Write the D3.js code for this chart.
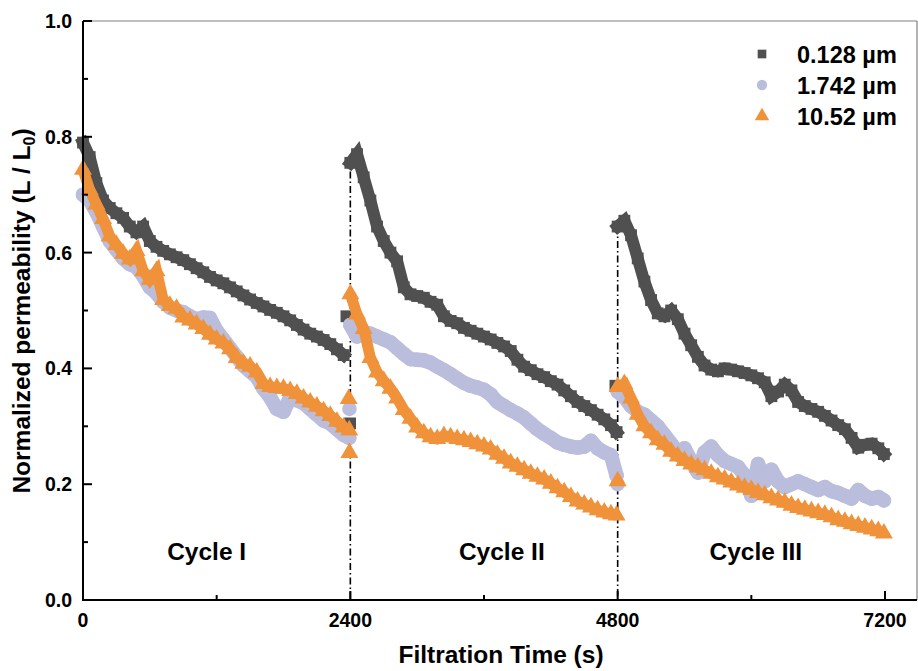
<!DOCTYPE html>
<html><head><meta charset="utf-8">
<script src="https://cdn.jsdelivr.net/npm/d3@7"></script>
<style>html,body{margin:0;padding:0;background:#fff;}svg{display:block;font-family:"Liberation Sans",Arial,sans-serif;font-weight:bold;}</style>
</head><body>
<svg id="chart" width="918" height="671"></svg>
<script>
// ---- data ----
const seriesNames = ["0.128 \u00b5m", "1.742 \u00b5m", "10.52 \u00b5m"];
const seriesColors = ["#505050", "#bbbddc", "#f0923a"];
const sampleStep = 60; // s
const cycleStarts = [0, 2400, 4800];
const xTicks = [0, 2400, 4800, 7200];
const xMinorTicks = [1200, 3600, 6000];
const yTicks = [0, 0.2, 0.4, 0.6, 0.8, 1.0];
const yMinorTicks = [0.1, 0.3, 0.5, 0.7, 0.9];
const cycleLabels = ["Cycle I", "Cycle II", "Cycle III"];
const cycleLabelTimes = [1110, 3760, 6040];
const dividerTimes = [2400, 4800];
const dividerTops = [0.74, 0.645];

// 0.128 um
const s1c1 = [0.79,0.765,0.72,0.69,0.677,0.668,0.66,0.645,0.635,0.645,0.62,0.61,0.603,0.597,0.592,0.587,0.58,0.573,0.566,0.558,0.552,0.547,0.54,0.533,0.526,0.519,0.513,0.507,0.501,0.496,0.49,0.483,0.475,0.467,0.46,0.455,0.449,0.442,0.433,0.423];
const s1c2 = [0.755,0.77,0.73,0.69,0.645,0.62,0.60,0.585,0.54,0.528,0.525,0.522,0.515,0.51,0.49,0.482,0.478,0.47,0.465,0.46,0.455,0.45,0.444,0.438,0.43,0.415,0.403,0.397,0.39,0.385,0.378,0.372,0.362,0.352,0.342,0.335,0.328,0.32,0.312,0.302,0.29];
const s1c3 = [0.645,0.655,0.63,0.59,0.55,0.518,0.495,0.49,0.50,0.485,0.46,0.44,0.42,0.405,0.398,0.395,0.40,0.398,0.395,0.392,0.388,0.383,0.376,0.352,0.36,0.372,0.362,0.342,0.335,0.33,0.325,0.318,0.31,0.302,0.295,0.28,0.263,0.268,0.27,0.262,0.252];
const s1extra = [[2365,0.49],[2398,0.305],[4780,0.37]];

// 1.742 um
const s2c1 = [0.70,0.69,0.67,0.645,0.62,0.605,0.59,0.58,0.575,0.56,0.54,0.53,0.515,0.505,0.50,0.497,0.49,0.485,0.488,0.487,0.465,0.45,0.435,0.42,0.405,0.395,0.385,0.365,0.35,0.33,0.325,0.35,0.345,0.34,0.33,0.32,0.31,0.305,0.295,0.285,0.28];
const s2c2 = [0.475,0.455,0.462,0.46,0.455,0.45,0.445,0.435,0.425,0.416,0.415,0.414,0.41,0.403,0.397,0.39,0.382,0.375,0.37,0.367,0.363,0.355,0.342,0.335,0.328,0.322,0.315,0.305,0.295,0.287,0.28,0.272,0.268,0.265,0.263,0.265,0.275,0.262,0.255,0.25,0.215];
const s2c3 = [0.36,0.35,0.335,0.325,0.32,0.31,0.30,0.285,0.27,0.255,0.262,0.24,0.22,0.255,0.265,0.25,0.24,0.235,0.23,0.215,0.18,0.235,0.205,0.225,0.205,0.195,0.2,0.205,0.2,0.195,0.19,0.195,0.188,0.185,0.18,0.175,0.19,0.18,0.175,0.178,0.172];
const s2extra = [[2392,0.33],[4800,0.20]];

// 10.52 um
const s3c1 = [0.745,0.71,0.685,0.66,0.63,0.615,0.60,0.59,0.605,0.57,0.555,0.57,0.52,0.51,0.505,0.49,0.485,0.478,0.47,0.46,0.452,0.445,0.435,0.42,0.41,0.405,0.395,0.375,0.37,0.368,0.367,0.363,0.358,0.35,0.343,0.336,0.328,0.32,0.31,0.30,0.295];
const s3c2 = [0.53,0.495,0.47,0.42,0.395,0.38,0.367,0.35,0.33,0.315,0.30,0.29,0.283,0.28,0.285,0.283,0.28,0.278,0.275,0.271,0.267,0.262,0.253,0.246,0.238,0.232,0.226,0.22,0.215,0.21,0.203,0.195,0.188,0.18,0.172,0.167,0.162,0.157,0.153,0.15,0.148];
const s3c3 = [0.37,0.375,0.35,0.322,0.302,0.29,0.278,0.27,0.258,0.25,0.242,0.236,0.231,0.226,0.22,0.214,0.21,0.205,0.2,0.196,0.192,0.187,0.183,0.178,0.174,0.17,0.165,0.161,0.158,0.155,0.152,0.149,0.145,0.14,0.137,0.133,0.13,0.127,0.124,0.121,0.117];
const s3extra = [[2385,0.349],[2392,0.256],[4800,0.207]];

// ---- build ----
function segs(cycles) {
  return cycles.map((arr, ci) => arr.map((v, i) => [cycleStarts[ci] + Math.min(i * sampleStep, 2390), v]));
}
const allSegs = [segs([s1c1, s1c2, s1c3]), segs([s2c1, s2c2, s2c3]), segs([s3c1, s3c2, s3c3])];
const allExtra = [s1extra, s2extra, s3extra];

const svg = d3.select("#chart");
const pLeft = 83, pRight = 917, pTop = 21, pBottom = 600;
const x = d3.scaleLinear().domain([0, 7200]).range([83, 885]);
const y = d3.scaleLinear().domain([0, 1]).range([pBottom, pTop]);

// frame (top/right)
svg.append("line").attr("x1", pLeft).attr("x2", pRight).attr("y1", pTop).attr("y2", pTop).attr("stroke", "#808080").attr("stroke-width", 1.2);
svg.append("line").attr("x1", pRight).attr("x2", pRight).attr("y1", pTop).attr("y2", pBottom).attr("stroke", "#808080").attr("stroke-width", 1.2);

// dividers
dividerTimes.forEach((t, i) => {
  svg.append("line").attr("x1", x(t)).attr("x2", x(t)).attr("y1", y(dividerTops[i])).attr("y2", pBottom)
    .attr("stroke", "#000").attr("stroke-width", 1.6).attr("stroke-dasharray", "7,3,1.5,3");
});

// series
const symbols = [d3.symbolSquare, d3.symbolCircle, d3.symbolTriangle];
const sizes = [140, 165, 140];
const bandW = [12, 14.5, 11];
const caps = ["square", "round", "butt"];
const line = d3.line().x(d => x(d[0])).y(d => y(d[1]));
allSegs.forEach((cycles, si) => {
  const g = svg.append("g");
  const off = si === 2 ? 1 : 0;
  cycles.forEach(seg => {
    g.append("path").attr("d", line(seg)).attr("fill", "none").attr("stroke", seriesColors[si])
      .attr("stroke-width", bandW[si]).attr("stroke-linejoin", si === 1 ? "round" : "miter")
      .attr("stroke-linecap", caps[si]).attr("transform", `translate(0,${off})`);
  });
  const pts = cycles.flat().concat(allExtra[si]);
  const sym = d3.symbol().type(symbols[si]).size(sizes[si]);
  g.selectAll("path.m").data(pts).join("path").attr("class", "m")
    .attr("d", sym)
    .attr("transform", d => `translate(${x(d[0])},${y(d[1]) + off})`)
    .attr("fill", seriesColors[si]);
});

// axes
const xAxis = svg.append("g").attr("transform", `translate(0,${pBottom})`);
xAxis.append("line").attr("x1", pLeft - 1).attr("x2", pRight).attr("y1", 0).attr("y2", 0).attr("stroke", "#000").attr("stroke-width", 2);
xAxis.selectAll(".maj").data(xTicks).join("line").attr("class","maj").attr("x1", d => x(d)).attr("x2", d => x(d)).attr("y1", 0).attr("y2", -9).attr("stroke", "#000").attr("stroke-width", 2);
xAxis.selectAll(".min").data(xMinorTicks).join("line").attr("class","min").attr("x1", d => x(d)).attr("x2", d => x(d)).attr("y1", 0).attr("y2", -5).attr("stroke", "#000").attr("stroke-width", 2);
xAxis.selectAll("text").data(xTicks).join("text").attr("x", d => x(d)).attr("y", 27).attr("text-anchor", "middle").attr("font-size", 19.5).text(d => d);

const yAxis = svg.append("g").attr("transform", `translate(${pLeft},0)`);
yAxis.append("line").attr("x1", 0).attr("x2", 0).attr("y1", pTop).attr("y2", pBottom + 1).attr("stroke", "#000").attr("stroke-width", 2);
yAxis.selectAll(".maj").data(yTicks).join("line").attr("class","maj").attr("x1", 0).attr("x2", 9).attr("y1", d => y(d)).attr("y2", d => y(d)).attr("stroke", "#000").attr("stroke-width", 2);
yAxis.selectAll(".min").data(yMinorTicks).join("line").attr("class","min").attr("x1", 0).attr("x2", 5).attr("y1", d => y(d)).attr("y2", d => y(d)).attr("stroke", "#000").attr("stroke-width", 2);
yAxis.selectAll("text").data(yTicks).join("text").attr("x", -11).attr("y", d => y(d) + 7).attr("text-anchor", "end").attr("font-size", 19.5).text(d => d3.format(".1f")(d));

// titles
svg.append("text").attr("x", 501).attr("y", 663).attr("text-anchor", "middle").attr("font-size", 24.5).text("Filtration Time (s)");
const yt = svg.append("text").attr("transform", `translate(30,311) rotate(-90)`).attr("text-anchor", "middle").attr("font-size", 24.5);
yt.append("tspan").text("Normalized permeability (L / L");
yt.append("tspan").attr("font-size", 16).attr("dy", 5).text("0");
yt.append("tspan").attr("dy", -5).text(")");

// cycle labels
cycleLabels.forEach((c, i) => {
  svg.append("text").attr("x", x(cycleLabelTimes[i])).attr("y", 560).attr("text-anchor", "middle").attr("font-size", 24.5).text(c);
});

// legend
const legY = [54, 85, 116];
const legSizes = [75, 85, 90];
const legBase = [63, 94, 125];
seriesNames.forEach((n, i) => {
  svg.append("path").attr("d", d3.symbol().type(symbols[i]).size(legSizes[i])).attr("transform", `translate(762,${legY[i]})`).attr("fill", seriesColors[i]);
  svg.append("text").attr("x", 797).attr("y", legBase[i]).attr("font-size", 23.5).text(n);
});
</script>
</body></html>
